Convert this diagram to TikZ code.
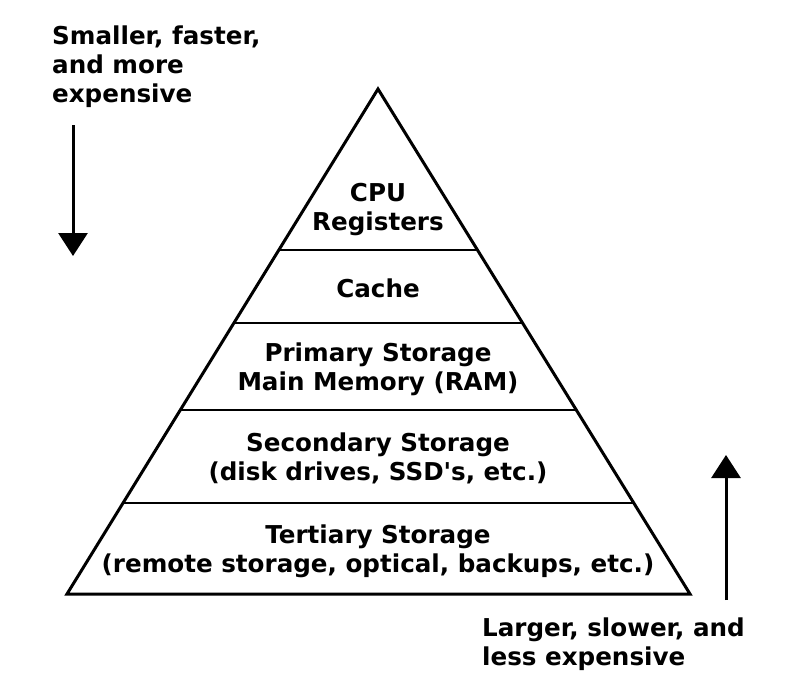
\documentclass[tikz,border=0pt]{standalone}
\usepackage{fontspec}
\setmainfont{DejaVu Sans}
\usetikzlibrary{arrows.meta,calc}
\newcommand{\sq}{\XeTeXglyph\XeTeXcharglyph"0027\relax}
\begin{document}
\begin{tikzpicture}[x=1pt,y=-1pt,
  lbl/.style={font=\bfseries\fontsize{24.6}{29}\selectfont, align=center, inner sep=0pt},
  side/.style={font=\bfseries\fontsize{24.6}{29}\selectfont, align=left, inner sep=0pt, anchor=west},
  edge/.style={line width=3pt, line join=miter},
  bigarrow/.style={line width=3pt, -{Triangle[length=23pt,width=29pt]}}]
\useasboundingbox (0,0) rectangle (793,685);
\coordinate (apex) at (378,89);
\coordinate (bl) at (67,594);
\coordinate (br) at (690,594);
\draw[edge] (apex) -- (br) -- (bl) -- cycle;
\foreach \t/\n in {0.3188/a,0.4634/b,0.6356/c,0.8198/d}{
  \coordinate (l\n) at ($(apex)!\t!(bl)$);
  \coordinate (r\n) at ($(apex)!\t!(br)$);
  \draw[line width=2.5pt] (l\n) -- (r\n);
}
\node[lbl] (cpu) at (378,210) {CPU\\Registers};
\node[lbl] (cache) at (378,288) {Cache};
\node[lbl] (prim) at (378,369) {Primary Storage\\Main Memory (RAM)};
\node[lbl] (sec) at (378,458) {Secondary Storage\\(disk drives, SSD\sq s, etc.)};
\node[lbl] (ter) at (378,551) {Tertiary Storage\\(remote storage, optical, backups, etc.)};
\node[side] (tl) at (52,67) {Smaller, faster,\\and more\\expensive};
\node[side] (brt) at (482,644) {Larger, slower, and\\less expensive};
\coordinate (d1) at (73,125);
\coordinate (d2) at (73,256);
\coordinate (u1) at (726,600);
\coordinate (u2) at (726,455);
\draw[bigarrow] (d1) -- (d2);
\draw[bigarrow] (u1) -- (u2);
\end{tikzpicture}
\end{document}
